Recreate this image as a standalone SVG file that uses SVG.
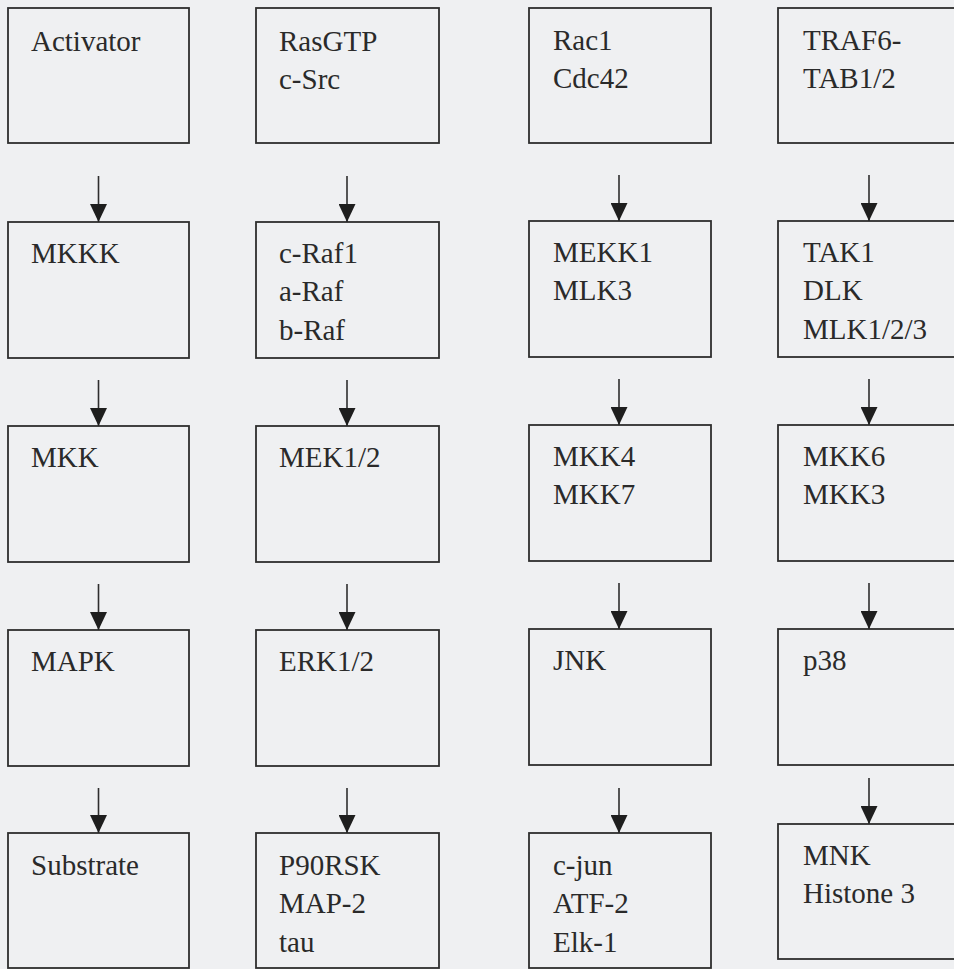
<svg xmlns="http://www.w3.org/2000/svg" width="954" height="969" viewBox="0 0 954 969">
<style>
.box{fill:none;stroke:#2e2e2e;stroke-width:1.8}
text{font-family:'Liberation Serif','Times New Roman',Times,'DejaVu Serif',serif;font-size:29px;fill:#2a2a2a}
.c{stroke:#2e2e2e;stroke-width:1.6;fill:none;marker-end:url(#ah)}
</style>
<defs>
<marker id="ah" viewBox="0 0 18 17" refX="18" refY="8.5" markerWidth="18" markerHeight="17" markerUnits="userSpaceOnUse" orient="auto">
<path d="M0,0 L18,8.5 L0,17 z" fill="#1e1e1e"/>
</marker>
</defs>
<rect width="954" height="969" fill="#eff0f2"/>
<g font-family="Liberation Serif, serif">
<g id="n-activator"><rect class="box" x="8" y="8" width="181" height="135"/><text x="31" y="51">Activator</text></g>
<g id="n-rasgtp"><rect class="box" x="256" y="8" width="183" height="135"/><text x="279" y="51">RasGTP</text><text x="279" y="89">c-Src</text></g>
<g id="n-rac1"><rect class="box" x="529" y="8" width="182" height="135"/><text x="553" y="50">Rac1</text><text x="553" y="88">Cdc42</text></g>
<g id="n-traf6"><rect class="box" x="778" y="8" width="190" height="135"/><text x="803" y="50">TRAF6-</text><text x="803" y="88">TAB1/2</text></g>

<g id="n-mkkk"><rect class="box" x="8" y="222" width="181" height="136"/><text x="31" y="263">MKKK</text></g>
<g id="n-craf"><rect class="box" x="256" y="222" width="183" height="136"/><text x="279" y="263">c-Raf1</text><text x="279" y="301">a-Raf</text><text x="279" y="340">b-Raf</text></g>
<g id="n-mekk1"><rect class="box" x="529" y="221" width="182" height="136"/><text x="553" y="262">MEKK1</text><text x="553" y="300">MLK3</text></g>
<g id="n-tak1"><rect class="box" x="778" y="221" width="190" height="136"/><text x="803" y="262">TAK1</text><text x="803" y="300">DLK</text><text x="803" y="339">MLK1/2/3</text></g>

<g id="n-mkk"><rect class="box" x="8" y="426" width="181" height="136"/><text x="31" y="467">MKK</text></g>
<g id="n-mek"><rect class="box" x="256" y="426" width="183" height="136"/><text x="279" y="467">MEK1/2</text></g>
<g id="n-mkk4"><rect class="box" x="529" y="425" width="182" height="136"/><text x="553" y="466">MKK4</text><text x="553" y="504">MKK7</text></g>
<g id="n-mkk6"><rect class="box" x="778" y="425" width="190" height="136"/><text x="803" y="466">MKK6</text><text x="803" y="504">MKK3</text></g>

<g id="n-mapk"><rect class="box" x="8" y="630" width="181" height="136"/><text x="31" y="671">MAPK</text></g>
<g id="n-erk"><rect class="box" x="256" y="630" width="183" height="136"/><text x="279" y="671">ERK1/2</text></g>
<g id="n-jnk"><rect class="box" x="529" y="629" width="182" height="136"/><text x="553" y="670">JNK</text></g>
<g id="n-p38"><rect class="box" x="778" y="629" width="190" height="136"/><text x="803" y="670">p38</text></g>

<g id="n-substrate"><rect class="box" x="8" y="833" width="181" height="135"/><text x="31" y="875">Substrate</text></g>
<g id="n-p90rsk"><rect class="box" x="256" y="833" width="183" height="135"/><text x="279" y="875">P90RSK</text><text x="279" y="913">MAP-2</text><text x="279" y="952">tau</text></g>
<g id="n-cjun"><rect class="box" x="529" y="833" width="182" height="135"/><text x="553" y="875">c-jun</text><text x="553" y="913">ATF-2</text><text x="553" y="952">Elk-1</text></g>
<g id="n-mnk"><rect class="box" x="778" y="824" width="190" height="135"/><text x="803" y="865">MNK</text><text x="803" y="903">Histone 3</text></g>
</g>
<g id="connectors">
<line class="c" x1="98.5" y1="176" x2="98.5" y2="222"/>
<line class="c" x1="347" y1="176" x2="347" y2="222"/>
<line class="c" x1="619" y1="175" x2="619" y2="221"/>
<line class="c" x1="869" y1="175" x2="869" y2="221"/>
<line class="c" x1="98.5" y1="380" x2="98.5" y2="426"/>
<line class="c" x1="347" y1="380" x2="347" y2="426"/>
<line class="c" x1="619" y1="379" x2="619" y2="425"/>
<line class="c" x1="869" y1="379" x2="869" y2="425"/>
<line class="c" x1="98.5" y1="584" x2="98.5" y2="630"/>
<line class="c" x1="347" y1="584" x2="347" y2="630"/>
<line class="c" x1="619" y1="583" x2="619" y2="629"/>
<line class="c" x1="869" y1="583" x2="869" y2="629"/>
<line class="c" x1="98.5" y1="788" x2="98.5" y2="833"/>
<line class="c" x1="347" y1="788" x2="347" y2="833"/>
<line class="c" x1="619" y1="788" x2="619" y2="833"/>
<line class="c" x1="869" y1="778" x2="869" y2="824"/>
</g>
</svg>
